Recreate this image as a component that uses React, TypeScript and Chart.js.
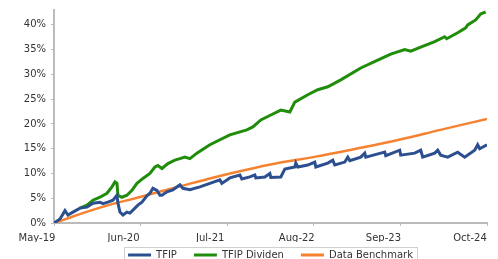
import React, { useEffect, useRef } from "react";
import { Chart, registerables } from "chart.js";

Chart.register(...registerables);

// x values are months since May-19
const xTickLabels = ["May-19", "Jun-20", "Jul-21", "Aug-22", "Sep-23", "Oct-24"];

const tfipMonths = [0, 0.9, 1.65, 2.1, 2.85, 3.9, 4.95, 5.85, 6.9, 7.35, 8.1, 8.85, 9.45, 9.6, 9.9, 10.35, 10.95, 11.4, 12.15, 12.6, 13.2, 13.95, 14.4, 14.85, 15.45, 15.9, 16.2, 16.95, 17.85, 18.9, 19.35, 20.4, 21.9, 23.4, 24.9, 25.2, 26.4, 27.9, 28.2, 29.4, 30.15, 30.3, 31.65, 32.4, 32.55, 34.05, 34.65, 36.15, 36.3, 36.6, 38.1, 39.15, 39.3, 41.1, 41.85, 42.15, 43.65, 44.1, 44.4, 46.05, 46.65, 46.8, 49.05, 49.65, 49.8, 51.9, 52.05, 54.15, 55.05, 55.35, 57.15, 57.6, 58.05, 59.1, 60.6, 61.65, 63.15, 63.6, 63.9, 65];
const tfipValues = [0, 0.8, 2.5, 1.6, 2.2, 3.0, 3.2, 4.0, 4.2, 3.9, 4.2, 4.6, 5.6, 4.0, 2.2, 1.6, 2.2, 2.0, 3.0, 3.6, 4.2, 5.5, 6.0, 7.0, 6.6, 5.6, 5.6, 6.3, 6.7, 7.7, 7.0, 6.7, 7.3, 8.0, 8.7, 8.0, 9.1, 9.7, 8.9, 9.3, 9.7, 9.1, 9.3, 10.0, 9.2, 9.3, 10.9, 11.3, 12.1, 11.3, 11.7, 12.3, 11.3, 12.1, 12.7, 11.7, 12.3, 13.3, 12.6, 13.3, 14.1, 13.3, 14.1, 14.3, 13.6, 14.7, 13.7, 14.1, 14.7, 13.3, 14.1, 14.7, 13.7, 13.3, 14.3, 13.3, 14.7, 15.8, 15.0, 15.8];

const dividenMonths = [3.9, 4.95, 5.85, 6.9, 7.95, 8.7, 9.15, 9.45, 9.6, 10.2, 10.95, 11.7, 12.45, 13.35, 14.4, 15.15, 15.6, 16.2, 17.1, 18.15, 18.9, 19.65, 20.4, 21.45, 23.4, 26.4, 28.95, 29.85, 31.05, 32.55, 34.05, 35.4, 36.15, 38.1, 39.6, 41.1, 43.05, 46.05, 48.6, 50.55, 52.65, 53.55, 55.05, 57.15, 58.65, 58.95, 60.6, 61.8, 62.1, 63.3, 64.05, 64.8];
const dividenValues = [3.0, 3.6, 4.6, 5.2, 6.0, 7.3, 8.3, 8.0, 5.6, 5.2, 5.6, 6.6, 8.0, 9.0, 10.0, 11.3, 11.6, 11.0, 12.0, 12.7, 13.0, 13.3, 13.0, 14.1, 15.8, 17.8, 18.8, 19.4, 20.8, 21.8, 22.8, 22.4, 24.4, 25.9, 26.9, 27.5, 28.9, 31.3, 32.9, 34.1, 35.0, 34.7, 35.5, 36.6, 37.6, 37.2, 38.4, 39.4, 40.0, 41.0, 42.2, 42.6];

const benchmarkMonths = [0, 6.9, 12.75, 18.9, 24, 29.4, 34, 38.9, 45, 51.8, 58, 65];
const benchmarkValues = [0, 3.1, 5.2, 7.4, 9.2, 10.9, 12.2, 13.3, 14.9, 16.8, 18.8, 21.0];

const toPoints = (xs: number[], ys: number[]) => xs.map((x, i) => ({ x, y: ys[i] }));

const FONT = "10px 'DejaVu Sans'";

// Legend with a light border, drawn from the chart's own datasets
const boxedLegend = {
  id: "boxedLegend",
  afterDraw(chart: any) {
    const ctx = chart.ctx;
    const area = chart.chartArea;
    const items = chart.data.datasets.map((d: any) => ({ label: d.label, color: d.borderColor }));
    const lineW = 23, gapText = 5, gapItem = 17, padX = 4;
    ctx.save();
    ctx.font = FONT;
    const widths = items.map((it: any) => lineW + gapText + ctx.measureText(it.label).width);
    const total = widths.reduce((a: number, b: number) => a + b, 0) + gapItem * (items.length - 1);
    let x = (area.left + area.right) / 2 - total / 2;
    const cy = 255;
    ctx.strokeStyle = "#d0d0d0";
    ctx.lineWidth = 1;
    ctx.strokeRect(Math.round(x - padX) + 0.5, 247.5, Math.round(total + padX * 2), 20);
    ctx.textBaseline = "middle";
    ctx.fillStyle = "#333";
    items.forEach((it: any, i: number) => {
      ctx.strokeStyle = it.color;
      ctx.lineWidth = 3;
      ctx.beginPath();
      ctx.moveTo(x, cy);
      ctx.lineTo(x + lineW, cy);
      ctx.stroke();
      ctx.fillStyle = "#333";
      ctx.fillText(it.label, x + lineW + gapText, cy);
      x += widths[i] + gapItem;
    });
    ctx.restore();
  },
};

export default function App() {
  const ref = useRef<HTMLCanvasElement>(null);
  useEffect(() => {
    if (!ref.current) return;
    const font = { family: "DejaVu Sans", size: 10 };
    const chart = new Chart(ref.current, {
      type: "line",
      data: {
        datasets: [
          {
            label: "TFIP",
            data: toPoints(tfipMonths, tfipValues),
            borderColor: "#2c4f8f",
            backgroundColor: "#2c4f8f",
            borderWidth: 3,
            pointRadius: 0,
            tension: 0,
          },
          {
            label: "TFIP Dividen",
            data: toPoints(dividenMonths, dividenValues),
            borderColor: "#1f8c0a",
            backgroundColor: "#1f8c0a",
            borderWidth: 3,
            pointRadius: 0,
            tension: 0,
          },
          {
            label: "Data Benchmark",
            data: toPoints(benchmarkMonths, benchmarkValues),
            borderColor: "#f58231",
            backgroundColor: "#f58231",
            borderWidth: 2.5,
            pointRadius: 0,
            tension: 0.4,
          },
        ],
      },
      options: {
        animation: false,
        responsive: true,
        maintainAspectRatio: false,
        layout: { padding: { left: 0, right: 11, top: 10, bottom: 17 } },
        plugins: {
          tooltip: { enabled: false },
          legend: { display: false },
        },
        scales: {
          x: {
            type: "linear",
            min: 0,
            max: 65,
            ticks: {
              stepSize: 13,
              font,
              color: "#333",
              labelOffset: -17,
              padding: 6,
              maxRotation: 0,
              callback: (v: any) => {
                const i = Math.round(Number(v) / 13);
                return Number(v) % 13 === 0 ? xTickLabels[i] : "";
              },
            },
            grid: { drawOnChartArea: false, drawTicks: true, tickLength: 3, color: "#bbb" },
            border: { display: true, color: "#bbb", width: 2 },
            afterFit: (s: any) => {
              s.height = 19;
              s.paddingLeft = 0;
              s.paddingRight = 0;
            },
          },
          y: {
            min: 0,
            max: 43,
            ticks: {
              stepSize: 5,
              font,
              color: "#333",
              padding: 5,
              callback: (v: any) => `${v}%`,
            },
            afterBuildTicks: (axis: any) => {
              axis.ticks = axis.ticks.filter((t: any) => t.value % 5 === 0);
            },
            grid: { drawOnChartArea: false, drawTicks: true, tickLength: 3, color: "#bbb" },
            border: { display: true, color: "#bbb", width: 2 },
            afterFit: (s: any) => {
              s.width = 54;
              s.paddingTop = 0;
              s.paddingBottom = 0;
            },
          },
        },
      },
      plugins: [boxedLegend],
    });
    return () => chart.destroy();
  }, []);
  return (
    <div style={{ position: "absolute", left: 0, top: 0, width: 498, height: 259 }}>
      <canvas ref={ref} />
    </div>
  );
}
